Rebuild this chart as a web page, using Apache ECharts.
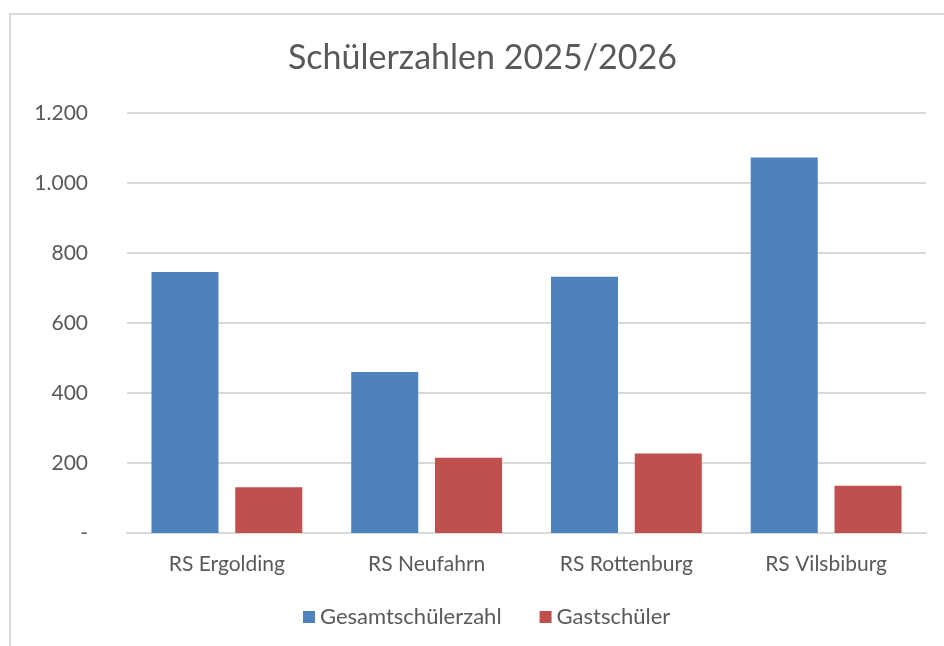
<!DOCTYPE html>
<html>
<head>
<meta charset="utf-8">
<script src="https://cdn.jsdelivr.net/npm/echarts@6/dist/echarts.min.js"></script>
<style>
  html, body { margin: 0; padding: 0; background: #fff; }
  #chart { width: 944px; height: 646px; }
</style>
</head>
<body>
<div id="chart"></div>
<script>
// Schulen (Kategorien)
var schools = ['RS Ergolding', 'RS Neufahrn', 'RS Rottenburg', 'RS Vilsbiburg'];
// Werte
var gesamt = [746, 460, 732, 1073];
var gast = [131, 215, 227, 135];
var seriesNames = ['Gesamtschülerzahl', 'Gastschüler'];

var textColor = '#595959';
var fontFam = 'Lato, "Noto Sans", sans-serif';

var myChart = echarts.init(document.getElementById('chart'));

var option = {
  backgroundColor: '#fff',
  animation: false,
  // grauer Rahmen wie im Excel-Diagramm
  graphic: [{
    type: 'rect',
    shape: { x: 10, y: 14, width: 1000, height: 1000 },
    style: { fill: 'none', stroke: '#d9d9d9', lineWidth: 2 },
    silent: true
  }],
  title: {
    text: 'Schülerzahlen 2025/2026',
    left: 283,
    top: 36,
    textStyle: { color: textColor, fontSize: 34, fontWeight: 'normal', fontFamily: fontFam }
  },
  legend: {
    data: seriesNames,
    bottom: 13,
    left: 298,
    itemWidth: 12,
    itemHeight: 12,
    itemGap: 38,
    icon: 'rect',
    textStyle: { color: textColor, fontSize: 22, fontFamily: fontFam }
  },
  grid: { left: 127, right: 18, top: 113, bottom: 113 },
  xAxis: {
    type: 'category',
    data: schools,
    axisLine: { lineStyle: { color: '#d9d9d9', width: 2 } },
    axisTick: { show: false },
    axisLabel: { color: textColor, fontSize: 21, margin: 21, fontFamily: fontFam }
  },
  yAxis: {
    type: 'value',
    min: 0,
    max: 1200,
    interval: 200,
    axisLine: { show: false },
    axisTick: { show: false },
    splitLine: { lineStyle: { color: '#d9d9d9', width: 2 } },
    axisLabel: {
      color: textColor,
      fontSize: 21,
      margin: 39,
      fontFamily: fontFam,
      formatter: function (v) {
        if (v === 0) return '-';
        return v.toString().replace(/\B(?=(\d{3})+(?!\d))/g, '.');
      }
    }
  },
  series: [
    {
      name: seriesNames[0],
      type: 'bar',
      data: gesamt,
      barGap: '25%',
      barCategoryGap: '24.5%',
      itemStyle: { color: '#4f81bd' }
    },
    {
      name: seriesNames[1],
      type: 'bar',
      data: gast,
      itemStyle: { color: '#c0504d' }
    }
  ]
};

myChart.setOption(option);
</script>
</body>
</html>
